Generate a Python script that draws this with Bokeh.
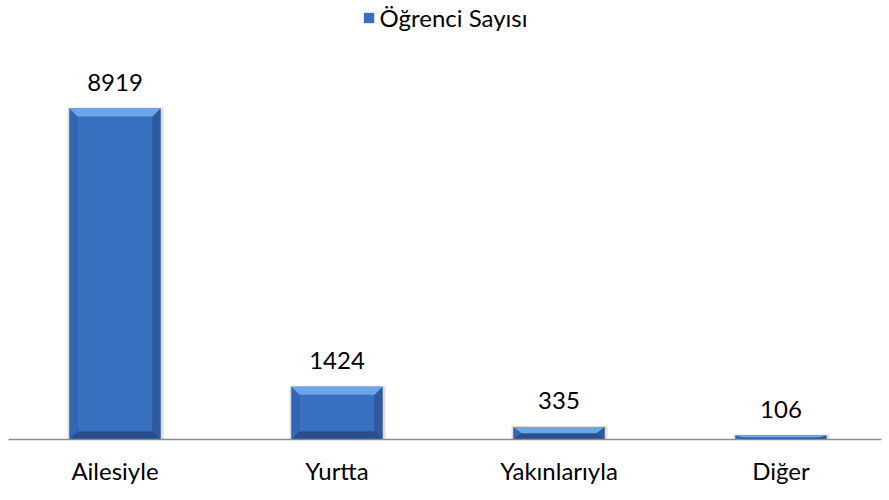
from bokeh.plotting import figure
from bokeh.models import Range1d, FixedTicker, ColumnDataSource, LabelSet, Legend, LegendItem
from bokeh.core.properties import value
from bokeh.embed import file_html
from bokeh.resources import INLINE

categories = ["Ailesiyle", "Yurtta", "Yakınlarıyla", "Diğer"]
values = [8919, 1424, 335, 106]
series_name = "Öğrenci Sayısı"

FONT = "Lato"
W, H = 889, 500
FRAME_W = 873
FRAME_H = 439
xs = list(range(len(categories)))
px_per_x = 222.0
x_start = -(114.5 - 8) / px_per_x
x_end = x_start + FRAME_W / px_per_x
y_end = max(values) * FRAME_H / 331.0

p = figure(width=W, height=H, output_backend="svg", toolbar_location=None,
           x_range=Range1d(x_start, x_end), y_range=Range1d(0, y_end),
           min_border_left=8, min_border_right=8, min_border_top=0, min_border_bottom=H - FRAME_H)
p.outline_line_color = None
p.grid.visible = False
p.yaxis.visible = False
p.xaxis.ticker = FixedTicker(ticks=xs)
p.xaxis.major_label_overrides = {i: c for i, c in zip(xs, categories)}
p.xaxis.major_tick_line_color = None
p.xaxis.minor_tick_line_color = None
p.xaxis.axis_line_color = "#8c8c8c"
p.xaxis.axis_line_width = 1.5
p.xaxis.major_label_text_font = FONT
p.xaxis.major_label_text_font_size = "24px"
p.xaxis.major_label_text_color = "#000000"
p.xaxis.major_label_standoff = 10

hw = 0.205
bx = 8 / px_per_x
ypp = y_end / FRAME_H
left = [x - hw for x in xs]
right = [x + hw for x in xs]

# shadow
p.quad(left=[l - 2 / px_per_x for l in left], right=[r + 3 / px_per_x for r in right],
       bottom=[-3 * ypp] * len(xs), top=[v + 1 * ypp for v in values],
       fill_color="#7f7f7f", fill_alpha=0.25, line_color=None)
# base (edges)
p.quad(left=left, right=right, bottom=[0] * len(xs), top=values,
       fill_color="#2d5ea6", line_color=None)

top_bev, bot_bev, l_bev, r_bev, inner_l, inner_r, inner_b, inner_t = [], [], [], [], [], [], [], []
for x, v in zip(xs, values):
    by = min(8 * ypp, v / 2.0)
    l, r = x - hw, x + hw
    top_bev.append(([l, r, r - bx, l + bx], [v, v, v - by, v - by]))
    bot_bev.append(([l, r, r - bx, l + bx], [0, 0, by, by]))
    l_bev.append(([l, l + bx, l + bx, l], [0, by, v - by, v]))
    r_bev.append(([r, r - bx, r - bx, r], [0, by, v - by, v]))
    inner_l.append(l + bx); inner_r.append(r - bx); inner_b.append(by); inner_t.append(v - by)

inner = p.quad(left=inner_l, right=inner_r, bottom=inner_b, top=inner_t,
               fill_color="#3a70c0", line_color=None)
p.patches(xs=[a for a, b in l_bev], ys=[b for a, b in l_bev], fill_color="#3467b3", line_color=None)
p.patches(xs=[a for a, b in r_bev], ys=[b for a, b in r_bev], fill_color="#2c5a9c", line_color=None)
p.patches(xs=[a for a, b in bot_bev], ys=[b for a, b in bot_bev], fill_color="#264f8c", line_color=None)
p.patches(xs=[a for a, b in top_bev], ys=[b for a, b in top_bev], fill_color="#6aa6e8", line_color=None)

src = ColumnDataSource(dict(x=xs, y=values, t=[str(v) for v in values]))
labels = LabelSet(x="x", y="y", text="t", source=src, y_offset=18, text_align="center",
                  text_baseline="alphabetic", text_font=value(FONT), text_font_size=value("24px"),
                  text_color="#000000")
p.add_layout(labels)

legend = Legend(items=[LegendItem(label=series_name, renderers=[inner])], location="top_center",
                orientation="horizontal", label_text_font=FONT, label_text_font_size="24px",
                label_text_color="#000000",
                glyph_width=13, glyph_height=13, border_line_color=None, background_fill_alpha=0,
                padding=0, margin=3, label_standoff=5)
p.add_layout(legend)

open("out.html", "w").write(file_html(p, INLINE))
